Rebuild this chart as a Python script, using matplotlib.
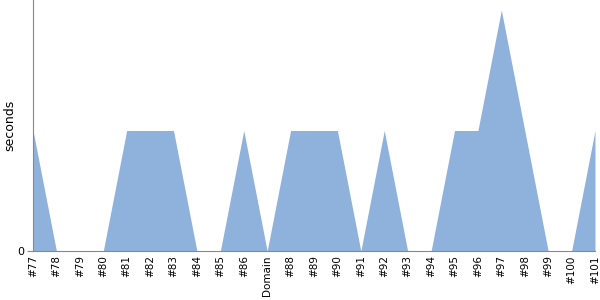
import matplotlib
matplotlib.use('Agg')
import matplotlib.pyplot as plt

labels = ['#77', '#78', '#79', '#80', '#81', '#82', '#83', '#84', '#85', '#86',
          'Domain', '#88', '#89', '#90', '#91', '#92', '#93', '#94', '#95', '#96',
          '#97', '#98', '#99', '#100', '#101']
seconds = [1, 0, 0, 0, 1, 1, 1, 0, 0, 1,
           0, 1, 1, 1, 0, 1, 0, 0, 1, 1,
           2, 1, 0, 0, 1]

fig = plt.figure(figsize=(6, 3), dpi=100)
ax = fig.add_axes([33/600, 49/300, 562/600, 251/300])
x = list(range(len(labels)))
ax.fill_between(x, seconds, 0, color='#8fb2dc', linewidth=0)
ax.set_xlim(0, len(labels) - 1)
ax.set_ylim(0, 2.083)
ax.set_yticks([0])
ax.set_yticklabels(['0'], fontsize=8)
ax.set_xticks(x)
ax.set_xticklabels(labels, rotation=90, fontsize=7.5)
ax.tick_params(axis='x', length=0, pad=3)
ax.tick_params(axis='y', length=4, color='#888888', pad=2)
ax.set_ylabel('seconds', fontsize=9)
ax.yaxis.set_label_coords(-0.030, 0.5)
for s in ['top', 'right']:
    ax.spines[s].set_visible(False)
for s in ['left', 'bottom']:
    ax.spines[s].set_color('#888888')
fig.savefig('out.png')
